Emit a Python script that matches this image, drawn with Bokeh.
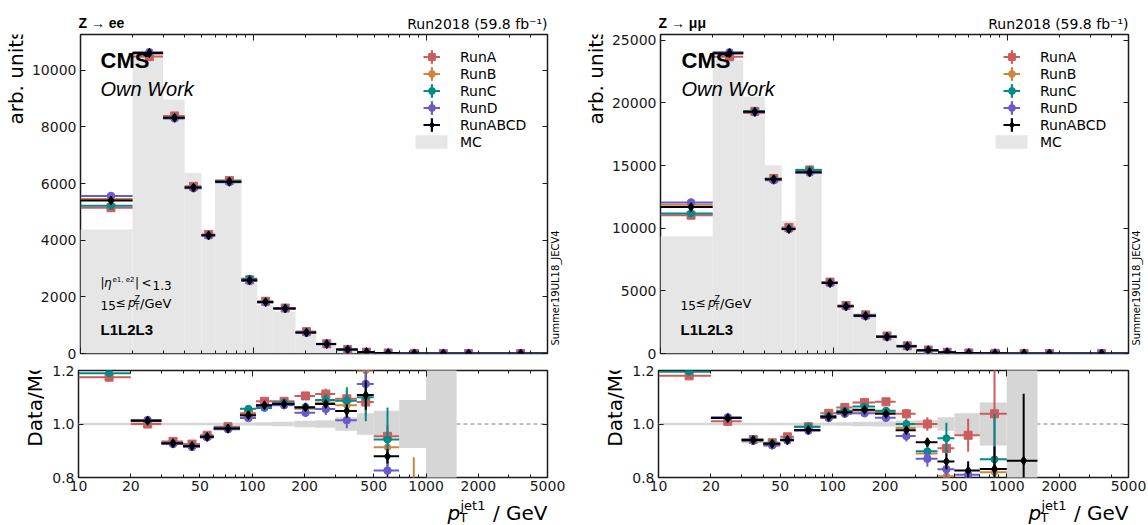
import math
import numpy as np
from bokeh.plotting import figure
from bokeh.models import (Range1d, FixedTicker, LinearAxis, LogAxis, Label, Legend,
                          LegendItem, BasicTickFormatter, PrintfTickFormatter, Span,
                          ColumnDataSource)
from bokeh.layouts import row, column
from bokeh.embed import file_html
from bokeh.resources import INLINE

nan = float("nan")

# leading-jet pT binning (GeV)
bin_edges = [10, 20, 30, 40, 50, 60, 85, 105, 130, 175, 230, 300, 400, 500, 700, 1000, 1500, 2000, 5000]

run_names = ["RunA", "RunB", "RunC", "RunD", "RunABCD"]
run_colors = ["#cd5c5c", "#cd853f", "#008b8b", "#6a5acd", "#000000"]
run_markers = ["square", "circle", "circle", "circle", "diamond"]
run_sizes = [8, 6.5, 7, 7.5, 9]

# ---------------- Z -> ee ----------------
ee_mc = [4380, 10480, 8970, 6380, 4380, 6170, 2500, 1700, 1480, 700, 310, 133, 45, 20, 7, 2, 0.8, 0.3]
ee_mc_relerr = [0.005, 0.005, 0.005, 0.005, 0.005, 0.005, 0.006, 0.007, 0.008, 0.012, 0.014, 0.025,
                0.04, 0.05, 0.09, 0.5, nan, nan]

ee_ratio_runA = [1.175, 1.000, 0.935, 0.925, 0.958, 0.990, 1.040, 1.085, 1.085, 1.105, 1.112, 1.094, 1.082, 0.954, 0.55, 0.3, 0.5, 0.5]
ee_ratio_runB = [1.245, 1.010, 0.928, 0.918, 0.952, 0.982, 1.032, 1.070, 1.075, 1.057, 1.080, 1.070, 1.200, 0.913, 0.65, 0.3, 0.5, 0.5]
ee_ratio_runC = [1.190, 1.012, 0.928, 0.918, 0.952, 0.985, 1.057, 1.060, 1.080, 1.064, 1.090, 1.087, 1.100, 0.942, 0.50, 0.3, 0.5, 0.5]
ee_ratio_runD = [1.270, 1.015, 0.925, 0.914, 0.950, 0.980, 1.022, 1.065, 1.070, 1.042, 1.056, 1.014, 1.150, 0.826, 0.45, 0.3, 0.5, 0.5]
ee_ratio_all = [1.232, 1.012, 0.928, 0.918, 0.952, 0.983, 1.033, 1.070, 1.075, 1.062, 1.075, 1.049, 1.108, 0.879, 0.55, 0.3, 0.5, 0.5]

ee_err_runA = [0.005, 0.004, 0.004, 0.004, 0.005, 0.004, 0.007, 0.009, 0.010, 0.014, 0.020, 0.030, 0.050, 0.040, 0.150, 0.2, 0.2, 0.2]
ee_err_runB = [0.006, 0.004, 0.004, 0.005, 0.006, 0.005, 0.009, 0.011, 0.012, 0.016, 0.025, 0.040, 0.070, 0.050, 0.226, 0.2, 0.2, 0.2]
ee_err_runC = [0.005, 0.004, 0.004, 0.004, 0.005, 0.004, 0.008, 0.010, 0.011, 0.015, 0.022, 0.050, 0.090, 0.120, 0.200, 0.2, 0.2, 0.2]
ee_err_runD = [0.005, 0.004, 0.004, 0.004, 0.005, 0.004, 0.008, 0.010, 0.011, 0.015, 0.022, 0.030, 0.060, 0.040, 0.200, 0.2, 0.2, 0.2]
ee_err_all = [0.003, 0.002, 0.002, 0.002, 0.003, 0.002, 0.004, 0.005, 0.005, 0.008, 0.012, 0.025, 0.055, 0.027, 0.100, 0.2, 0.2, 0.2]

# ---------------- Z -> mumu ----------------
mm_mc = [9350, 23450, 20520, 15020, 10570, 14800, 5480, 3610, 2860, 1290, 595, 280, 115, 48, 17, 6, 1, 0.4]
mm_mc_relerr = [0.005, 0.005, 0.005, 0.005, 0.005, 0.005, 0.006, 0.007, 0.008, 0.009, 0.013, 0.014,
                0.025, 0.04, 0.08, 0.5, nan, nan]

mm_ratio_runA = [1.180, 1.010, 0.942, 0.930, 0.952, 0.990, 1.040, 1.062, 1.080, 1.083, 1.038, 1.000, 0.909, 0.958, 1.038, 0.4, 0.5, 0.5]
mm_ratio_runB = [1.270, 1.022, 0.935, 0.925, 0.940, 0.978, 1.027, 1.045, 1.050, 1.045, 0.985, 0.890, 0.805, 0.700, 0.820, 0.4, 0.5, 0.5]
mm_ratio_runC = [1.195, 1.022, 0.942, 0.927, 0.942, 0.990, 1.030, 1.050, 1.065, 1.050, 1.000, 0.898, 0.947, 0.700, 0.868, 0.4, 0.5, 0.5]
mm_ratio_runD = [1.290, 1.025, 0.938, 0.920, 0.938, 0.975, 1.022, 1.038, 1.040, 1.023, 0.955, 0.870, 0.831, 0.810, 0.700, 0.4, 0.5, 0.5]
mm_ratio_all = [1.250, 1.022, 0.940, 0.926, 0.940, 0.978, 1.027, 1.044, 1.053, 1.038, 0.977, 0.932, 0.860, 0.826, 0.832, 0.863, 0.5, 0.5]

mm_err_runA = [0.004, 0.003, 0.003, 0.003, 0.004, 0.003, 0.006, 0.007, 0.008, 0.012, 0.018, 0.025, 0.030, 0.062, 0.170, 0.3, 0.2, 0.2]
mm_err_runB = [0.005, 0.003, 0.003, 0.004, 0.005, 0.004, 0.007, 0.008, 0.009, 0.013, 0.020, 0.030, 0.040, 0.060, 0.050, 0.3, 0.2, 0.2]
mm_err_runC = [0.004, 0.003, 0.003, 0.003, 0.004, 0.003, 0.006, 0.007, 0.008, 0.012, 0.018, 0.030, 0.058, 0.060, 0.170, 0.3, 0.2, 0.2]
mm_err_runD = [0.005, 0.003, 0.003, 0.004, 0.005, 0.004, 0.007, 0.008, 0.009, 0.013, 0.020, 0.030, 0.040, 0.040, 0.080, 0.3, 0.2, 0.2]
mm_err_all = [0.002, 0.002, 0.002, 0.002, 0.002, 0.002, 0.003, 0.004, 0.004, 0.006, 0.010, 0.015, 0.030, 0.035, 0.084, 0.250, 0.2, 0.2]

# axis ticks
x_labelled_ticks = [10, 20, 50, 100, 200, 500, 1000, 2000, 5000]
x_unlabelled_minor = [30, 40, 60, 70, 80, 90, 300, 400, 600, 700, 800, 900, 3000, 4000]
x_decades = [10, 100, 1000]
x_decade_minor = [20, 30, 40, 50, 60, 70, 80, 90, 200, 300, 400, 500, 600, 700, 800, 900,
                  2000, 3000, 4000, 5000]
ee_yticks = [0, 2000, 4000, 6000, 8000, 10000]
mm_yticks = [0, 5000, 10000, 15000, 20000, 25000]
ratio_yticks = [0.8, 1.0, 1.2]

# ---------------- layout (pixels) ----------------
HEADER_H = 31          # strip holding the channel / luminosity line
MAIN_TOP = 3
MAIN_H = 319
MAIN_BOTTOM = 8
MAIN_ROW_H = MAIN_TOP + MAIN_H + MAIN_BOTTOM
RATIO_TOP = 9
RATIO_H = 107
RATIO_BOTTOM = 20
RATIO_ROW_H = RATIO_TOP + RATIO_H + RATIO_BOTTOM
FOOTER_H = 28          # strip holding the x-axis title
SIDE_W = 17            # strip right of the main frame (tune tag)
AXIS_GAP = 50          # room for the y tick labels of the main frame
RATIO_AXIS_GAP = 30    # room for the y tick labels of the ratio frame

INK = "#1a1a1a"
TICK_FONT = "DejaVu Sans"
DESCENT = {"DejaVu Sans": 0.236, "Liberation Sans": 0.212}

lo = np.array(bin_edges[:-1], dtype=float)
hi = np.array(bin_edges[1:], dtype=float)
xc = 0.5 * (lo + hi)


def make_fig(w, h, y0, y1, bl, br, bt, bb):
    p = figure(width=w, height=h, x_axis_type="log", x_range=Range1d(10, 5000),
               y_range=Range1d(y0, y1), output_backend="svg", toolbar_location=None,
               min_border_left=bl, min_border_right=br, min_border_top=bt, min_border_bottom=bb)
    p.grid.visible = False
    p.outline_line_color = INK
    p.outline_line_width = 1.5
    p.background_fill_color = "white"
    p.border_fill_color = "white"
    return p


def text_strip(w, h):
    """Axis-free canvas used for titles that sit outside the data frames."""
    s = figure(width=w, height=h, min_border=0, x_range=Range1d(0, 1), y_range=Range1d(0, 1),
               x_axis_location=None, y_axis_location=None, toolbar_location=None,
               output_backend="svg")
    s.grid.visible = False
    s.outline_line_color = None
    s.background_fill_color = "white"
    s.border_fill_color = "white"
    return s


def style_axis(ax, ticks, minor, labelled, formatter=None, tick_in=5, minor_in=3, standoff=5):
    ax.ticker = FixedTicker(ticks=ticks, minor_ticks=minor)
    ax.axis_line_color = None
    ax.major_tick_in = tick_in
    ax.major_tick_out = 0
    ax.minor_tick_in = minor_in
    ax.minor_tick_out = 0
    ax.major_tick_line_color = INK
    ax.minor_tick_line_color = INK
    ax.major_tick_line_width = 1
    ax.minor_tick_line_width = 1
    if labelled:
        ax.formatter = formatter
        ax.major_label_text_font = TICK_FONT
        ax.major_label_text_font_size = "14px"
        ax.major_label_text_color = INK
        ax.major_label_standoff = standoff
    else:
        # tick marks only
        ax.major_label_text_font_size = "1px"
        ax.major_label_text_alpha = 0
        ax.major_label_standoff = 0


def txt(p, x, y, text, size, font="DejaVu Sans", style="normal", align="left", angle=0.0):
    """Place text so that its baseline passes through (x, y) in frame pixels."""
    d = DESCENT[font] * size
    if angle == 0.0:
        y = y - d
    else:
        x = x + d
    p.add_layout(Label(x=x, y=y, x_units="screen", y_units="screen", text=text,
                       text_font=font, text_font_size=f"{size}px", text_font_style=style,
                       text_align=align, text_baseline="bottom", angle=angle,
                       text_color="black"))


def draw_points(p, values, errors):
    refs = []
    for name, color, marker, size, yv, ye in zip(run_names, run_colors, run_markers,
                                                 run_sizes, values, errors):
        src = ColumnDataSource(dict(lo=lo, hi=hi, x=xc, y=yv, ylo=yv - ye, yhi=yv + ye))
        h = p.segment(x0="lo", y0="y", x1="hi", y1="y", source=src, line_color=color, line_width=2)
        p.segment(x0="x", y0="ylo", x1="x", y1="yhi", source=src, line_color=color, line_width=2)
        m = p.scatter(x="x", y="y", source=src, marker=marker, size=size,
                      fill_color=color, line_color=color)
        refs.append((h, m))
    return refs


def add_legends(p, refs, mc_renderer):
    top = MAIN_H - 14
    common = dict(padding=0, margin=0, spacing=0, border_line_alpha=0, background_fill_alpha=0,
                  label_text_font="DejaVu Sans", label_text_font_size="14px", label_height=17,
                  label_text_color="black")
    hidden = p.scatter(x=[1.0], y=[-1.0], size=1, fill_alpha=0, line_alpha=0)
    text_items = [LegendItem(label=n, renderers=[hidden]) for n in run_names]
    text_items.append(LegendItem(label="MC", renderers=[mc_renderer]))
    text_legend = Legend(items=text_items, location=(331, top - 6 * 17),
                         glyph_width=40, glyph_height=17, label_standoff=9, **common)
    vbar_items = []
    for color in run_colors:
        q = p.quad(left=[1.0], right=[1.0], bottom=[-1.0], top=[-1.0],
                   fill_color=color, line_color=None)
        vbar_items.append(LegendItem(label=" ", renderers=[q]))
    vbar_legend = Legend(items=vbar_items, location=(349.5, top - 5 * 17),
                         glyph_width=3, glyph_height=17, label_standoff=0, **common)
    marker_legend = Legend(items=[LegendItem(label=" ", renderers=[h, m]) for h, m in refs],
                           location=(342.5, top - 5 * 17), glyph_width=17, glyph_height=17,
                           label_standoff=0, **common)
    p.add_layout(text_legend)
    p.add_layout(vbar_legend)
    p.add_layout(marker_legend)


def build_panel(channel_text, mc, mc_relerr, ratios, errors, y_max, y_ticks,
                border_left, frame_w, border_right, cms_x, cut_lines):
    mc = np.array(mc, dtype=float)
    relerr = np.array(mc_relerr, dtype=float)
    ratios = [np.array(r, dtype=float) for r in ratios]
    errors = [np.array(e, dtype=float) for e in errors]
    width = border_left + frame_w + border_right
    frame_right = border_left + frame_w

    # ---------- header line ----------
    header = text_strip(width, HEADER_H)
    txt(header, border_left, HEADER_H - 28, channel_text, 14, font="Liberation Sans", style="bold")
    txt(header, frame_right, HEADER_H - 28, "Run2018 (59.8 fb\u207b\u00b9)", 14, align="right")

    # ---------- main distribution ----------
    ylab_w = border_left - AXIS_GAP
    main_w = width - ylab_w - SIDE_W
    main = make_fig(main_w, MAIN_ROW_H, 0, y_max, AXIS_GAP, 3, MAIN_TOP, MAIN_BOTTOM)
    main.add_layout(LogAxis(), "above")
    main.add_layout(LinearAxis(), "right")
    style_axis(main.below[0], x_decades, x_decade_minor, False, tick_in=6, minor_in=3)
    style_axis(main.above[0], x_decades, x_decade_minor, False, tick_in=6, minor_in=3)
    style_axis(main.left[0], y_ticks, [], True, BasicTickFormatter(use_scientific=False),
               tick_in=5, standoff=4)
    style_axis(main.right[0], y_ticks, [], False, tick_in=5)

    mc_r = main.quad(left=lo, right=hi, bottom=0, top=mc, fill_color="#e6e6e6", line_color=None)
    counts = [mc * r for r in ratios]
    count_errs = [mc * e for e in errors]
    refs = draw_points(main, counts, count_errs)
    add_legends(main, refs, mc_r)

    txt(main, cms_x, MAIN_H - 34, "CMS", 22, font="Liberation Sans", style="bold")
    txt(main, cms_x, MAIN_H - 61, "Own Work", 20, font="Liberation Sans", style="italic")
    for x, y, s, size, style in cut_lines:
        txt(main, x, y, s, size, style=style)
    txt(main, 20, 19, "L1L2L3", 15, font="Liberation Sans", style="bold")

    ylab_main = text_strip(ylab_w, MAIN_ROW_H)
    txt(ylab_main, ylab_w - 5, MAIN_ROW_H - MAIN_TOP - 3, "arb. units", 20,
        align="right", angle=math.pi / 2)

    side = text_strip(SIDE_W, MAIN_ROW_H)
    txt(side, 8, MAIN_BOTTOM, "Summer19UL18_JECV4", 10, angle=math.pi / 2)

    # ---------- data / MC ----------
    ylab_r_w = border_left - RATIO_AXIS_GAP
    ratio = make_fig(width - ylab_r_w, RATIO_ROW_H, 0.8, 1.2,
                     RATIO_AXIS_GAP, border_right, RATIO_TOP, RATIO_BOTTOM)
    ratio.add_layout(LogAxis(), "above")
    ratio.add_layout(LinearAxis(), "right")
    style_axis(ratio.below[0], x_labelled_ticks, x_unlabelled_minor, True,
               BasicTickFormatter(use_scientific=False), tick_in=4, minor_in=3, standoff=3)
    style_axis(ratio.above[0], x_decades, x_decade_minor, False, tick_in=6, minor_in=3)
    style_axis(ratio.left[0], ratio_yticks, [], True, PrintfTickFormatter(format="%.1f"),
               tick_in=5, standoff=4)
    style_axis(ratio.right[0], ratio_yticks, [], False, tick_in=5)

    unity = Span(location=1.0, dimension="width", line_color="#7f7f7f", line_width=1,
                 line_dash="4 3", level="underlay")
    ratio.add_layout(unity)
    ratio.quad(left=lo, right=hi, bottom=1 - relerr, top=1 + relerr,
               fill_color="#d6d6d6", line_color=None)
    draw_points(ratio, ratios, errors)

    # "Data/MC" is ~86 px long at 20 px; its upper end sits 43 px above the frame centre
    ylab_ratio = text_strip(ylab_r_w, RATIO_ROW_H)
    txt(ylab_ratio, ylab_r_w - 6, RATIO_BOTTOM + RATIO_H / 2 + 43, "Data/MC", 20,
        align="right", angle=math.pi / 2)

    # ---------- x-axis title ----------
    footer = text_strip(width, FOOTER_H)
    txt(footer, frame_right - 100, 5, "p", 20, style="italic")
    txt(footer, frame_right - 88, 3.2, "T", 13)
    txt(footer, frame_right - 87, 15.5, "jet1", 13)
    txt(footer, frame_right, 5, "/ GeV", 20, align="right")

    return column(header,
                  row(ylab_main, main, side, spacing=0),
                  row(ylab_ratio, ratio, spacing=0),
                  footer, spacing=0)


ee_cuts = [
    (20, 66, "|", 12, "normal"),
    (23.5, 66, "\u03b7", 12, "italic"),
    (32, 71, "e1, e2", 7, "normal"),
    (54.5, 66, "|", 12, "normal"),
    (61, 66, "<", 12, "normal"),
    (72, 66, "1.3", 12, "normal"),
    (20, 46, "15", 12, "normal"),
    (35, 46, "\u2264", 12, "normal"),
    (47.5, 46, "p", 12, "italic"),
    (54, 43, "T", 8, "normal"),
    (54, 51, "Z", 8, "normal"),
    (59.5, 46, "/GeV", 13, "normal"),
]
mm_cuts = [
    (20, 46, "15", 12, "normal"),
    (35, 46, "\u2264", 12, "normal"),
    (47.5, 46, "p", 12, "italic"),
    (54, 43, "T", 8, "normal"),
    (54, 51, "Z", 8, "normal"),
    (59.5, 46, "/GeV", 13, "normal"),
]

left = build_panel("Z \u2192 ee", ee_mc, ee_mc_relerr,
                   [ee_ratio_runA, ee_ratio_runB, ee_ratio_runC, ee_ratio_runD, ee_ratio_all],
                   [ee_err_runA, ee_err_runB, ee_err_runC, ee_err_runD, ee_err_all],
                   11260, ee_yticks, 78, 469, 20, 20, ee_cuts)
right = build_panel("Z \u2192 \u03bc\u03bc", mm_mc, mm_mc_relerr,
                    [mm_ratio_runA, mm_ratio_runB, mm_ratio_runC, mm_ratio_runD, mm_ratio_all],
                    [mm_err_runA, mm_err_runB, mm_err_runC, mm_err_runD, mm_err_all],
                    25460, mm_yticks, 91, 470, 20, 21, mm_cuts)

page = row(left, right, spacing=0)
open("out.html", "w").write(file_html(page, INLINE))
